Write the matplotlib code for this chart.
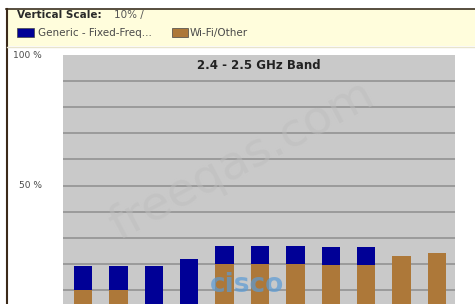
import matplotlib
matplotlib.use("Agg")
import matplotlib.pyplot as plt
from matplotlib.patches import Rectangle
import numpy as np

# bar heights in percent
channels = list(range(11))
generic = [9, 9, 19, 22, 7, 7, 7, 7, 7, 0, 0]
wifi = [10, 10, 0, 0, 20, 20, 20, 19.5, 19.5, 23, 24]
ytick_vals = [50, 100]
ytick_labels = ["50 %", "100 %"]

blue = "#000096"
brown = "#AD7839"

plt.rcParams['font.family'] = ['DejaVu Sans']

fig = plt.figure(figsize=(4.75, 3.04), dpi=100)
fig.patch.set_facecolor("white")

W, H = 475.0, 304.0
def fx(x): return x / W
def fy(y): return 1 - y / H

# header strip and window border
fig.patches.append(Rectangle((fx(7), fy(46)), fx(475 - 7), 37 / H, transform=fig.transFigure,
                             facecolor="#FFFDDC", edgecolor="none", zorder=0))
fig.add_artist(plt.Line2D([fx(6), 1], [fy(8.5), fy(8.5)], color="#3b3020", lw=1.2))
fig.add_artist(plt.Line2D([fx(6.5), fx(6.5)], [fy(8.5), 0], color="#3b2a1a", lw=1.5))
fig.add_artist(plt.Line2D([fx(7), 1], [fy(46.5), fy(46.5)], color="#e8e4cc", lw=1))

fig.text(fx(17), fy(15), "Vertical Scale:", fontsize=7.5, fontweight="bold", color="#2a2a2a", va="center")
fig.text(fx(114), fy(15), "10% /", fontsize=7.5, color="#555555", va="center")
fig.patches.append(Rectangle((fx(17), fy(37)), 17 / W, 9 / H, transform=fig.transFigure,
                             facecolor=blue, edgecolor="#444444", lw=0.5))
fig.text(fx(38), fy(33), "Generic - Fixed-Freq...", fontsize=7.5, color="#4a4a4a", va="center")
fig.patches.append(Rectangle((fx(172), fy(37)), 16 / W, 9 / H, transform=fig.transFigure,
                             facecolor=brown, edgecolor="#444444", lw=0.5))
fig.text(fx(190), fy(33), "Wi-Fi/Other", fontsize=7.5, color="#4a4a4a", va="center")

ax = fig.add_axes([fx(63), 0, 392 / W, fy(55)])
ax.set_facecolor("#C9C9C9")
x = np.array(channels)
ax.bar(x, wifi, width=0.52, color=brown, zorder=3)
ax.bar(x, generic, width=0.52, bottom=wifi, color=blue, zorder=3)

ax.set_xlim(-0.565, 10.51)
ax.set_ylim(4.6, 100)
for g in range(10, 100, 10):
    ax.axhline(g, color="#8E8E8E", lw=1.1, zorder=1)
for s in ax.spines.values():
    s.set_visible(False)
ax.set_xticks([])
ax.set_yticks(ytick_vals)
ax.set_yticklabels(ytick_labels, fontsize=6.5, color="#4a4a4a")
ax.tick_params(axis="y", length=0, pad=15)
for lab in ax.get_yticklabels():
    lab.set_verticalalignment("center")

ax.text(0.5, 0.985, "2.4 - 2.5 GHz Band", transform=ax.transAxes, ha="center", va="top",
        fontsize=8.5, fontweight="bold", color="#222222")

# watermarks
ax.text(0.457, 0.578, "freeqas.com", transform=ax.transAxes, ha="center", va="center",
        fontsize=34, rotation=28, color="#BDBDBD", alpha=0.5, zorder=4)
ax.text(0.47, 0.075, "cisco", transform=ax.transAxes, ha="center", va="center",
        fontsize=19, fontweight="bold", color="#5B9BD5", alpha=0.7, zorder=4)

fig.savefig("out.png", dpi=100)
